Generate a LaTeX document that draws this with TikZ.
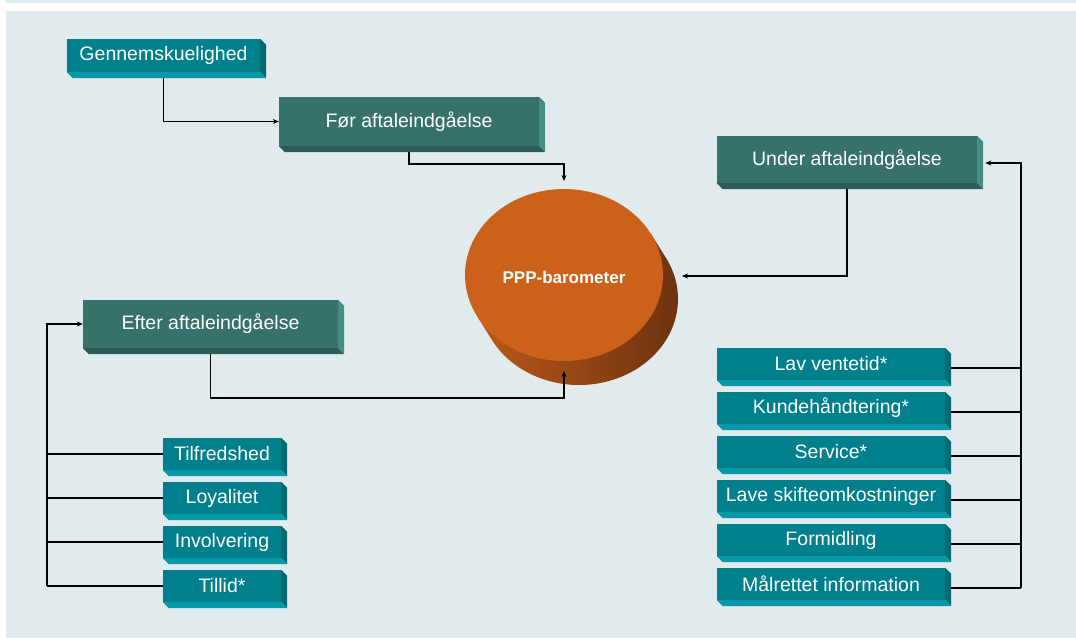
\documentclass[tikz,border=0pt]{standalone}
\usepackage{fontspec}
\setmainfont{Liberation Sans}
\usetikzlibrary{arrows.meta,calc}
\definecolor{panel}{HTML}{E1EBEE}
\definecolor{tealF}{HTML}{00808C}
\definecolor{tealB}{HTML}{0898A8}
\definecolor{tealR}{HTML}{006A73}
\definecolor{grnF}{HTML}{36716A}
\definecolor{grnB}{HTML}{2B5C56}
\definecolor{grnR}{HTML}{468D82}
\definecolor{orangeT}{HTML}{CB611A}
\definecolor{brownD}{HTML}{6E3310}
\definecolor{brownL}{HTML}{BA581A}
\pgfdeclarelayer{bg}
\pgfsetlayers{bg,main}
\begin{document}
\begin{tikzpicture}[x=1pt,y=-1pt,
  box/.style={inner sep=0pt, text=white, font=\fontsize{19.5}{22}\selectfont},
  tealbox/.style={box, fill=tealF},
  grnbox/.style={box, fill=grnF},
  conn/.style={line width=1.2pt, black},
  arr/.style={conn, -{Stealth[length=6pt,width=5pt]}},
]
\useasboundingbox (0,0) rectangle (1076,638);

% boxes
\node[tealbox, minimum width=193pt, minimum height=33pt] (gen) at (163.5,55.5) {Gennemskuelighed};
\node[grnbox, minimum width=260pt, minimum height=49pt] (foer) at (409,121.5) {Før aftaleindgåelse};
\node[grnbox, minimum width=260pt, minimum height=47pt] (under) at (847,159.5) {Under aftaleindgåelse};
\node[grnbox, minimum width=255pt, minimum height=48pt] (efter) at (210.5,324) {Efter aftaleindgåelse};

\node[tealbox, minimum width=118pt, minimum height=32pt] (l1) at (222,454) {Tilfredshed};
\node[tealbox, minimum width=118pt, minimum height=32pt] (l2) at (222,498) {Loyalitet};
\node[tealbox, minimum width=118pt, minimum height=32pt] (l3) at (222,542) {Involvering};
\node[tealbox, minimum width=118pt, minimum height=32pt] (l4) at (222,586) {Tillid*};

\node[tealbox, minimum width=228pt, minimum height=32pt] (r1) at (831,364) {Lav ventetid*};
\node[tealbox, minimum width=228pt, minimum height=32pt] (r2) at (831,408) {Kundehåndtering*};
\node[tealbox, minimum width=228pt, minimum height=32pt] (r3) at (831,452) {Service*};
\node[tealbox, minimum width=228pt, minimum height=32pt] (r4) at (831,496) {Lave skifteomkostninger};
\node[tealbox, minimum width=228pt, minimum height=32pt] (r5) at (831,540) {Formidling};
\node[tealbox, minimum width=228pt, minimum height=32pt] (r6) at (831,584) {Målrettet information};

% bevels
\foreach \n in {gen,l1,l2,l3,l4,r1,r2,r3,r4,r5,r6}{
  \fill[tealR] (\n.north east) -- ++(6,6) -- ([shift={(6,6)}]\n.south east) -- (\n.south east) -- cycle;
  \fill[tealB] (\n.south west) -- (\n.south east) -- ([shift={(6,6)}]\n.south east) -- ([shift={(6,6)}]\n.south west) -- cycle;
}
\foreach \n in {foer,under,efter}{
  \fill[grnR] (\n.north east) -- ++(6,6) -- ([shift={(6,6)}]\n.south east) -- (\n.south east) -- cycle;
  \fill[grnB] (\n.south west) -- (\n.south east) -- ([shift={(6,6)}]\n.south east) -- ([shift={(6,6)}]\n.south west) -- cycle;
}

\node[text=white, font=\bfseries\fontsize{17}{20}\selectfont] (cyl) at (564,277) {PPP-barometer};

\begin{pgfonlayer}{bg}
  \fill[white] (0,0) rectangle (1076,638);
  \fill[panel] (6,0) rectangle (1076,3);
  \fill[panel] (6,11) rectangle (1076,638);
  % cylinder
  \shade[left color=brownL, right color=brownD]
    (651,234) -- plot[domain=-28.5:151.5, samples=80] ({579+99*cos(\x)},{299+86*sin(\x)}) -- (477,316) -- cycle;
  \fill[orangeT] (564,275) ellipse[x radius=99, y radius=86];

  \coordinate (cylN) at (564,181);
  \coordinate (cylE) at (682,276);
  \coordinate (cylS) at (564,371);
  \coordinate (k1) at (564,164);
  \coordinate (k2) at (564,398);
  \coordinate (lbT) at (47,324);
  \coordinate (lbB) at (47,586);
  \coordinate (rbT) at (1021,163);
  \coordinate (rbB) at (1021,588);
  \coordinate (uE) at ($(under.east)+(8,0)$);

  \draw[arr] (gen.south) |- (foer.west);
  \draw[arr] (foer.south) |- (k1) -- (cylN);
  \draw[arr] (under.south) |- (cylE);
  \draw[arr] (efter.south) |- (k2) -- (cylS);
  \draw[arr] (lbB) -- (lbT) -- (efter.west);
  \foreach \n in {l1,l2,l3,l4}
    \draw[conn] (\n.west) -- (\n.west -| lbT);
  \draw[arr] (rbB) -- (rbT) -- (uE |- rbT);
  \foreach \n in {r1,r2,r3,r4,r5,r6}
    \draw[conn] ($(\n.east)+(0,4)$) -- ($(\n.east -| rbT)+(0,4)$);
\end{pgfonlayer}
\end{tikzpicture}
\end{document}
